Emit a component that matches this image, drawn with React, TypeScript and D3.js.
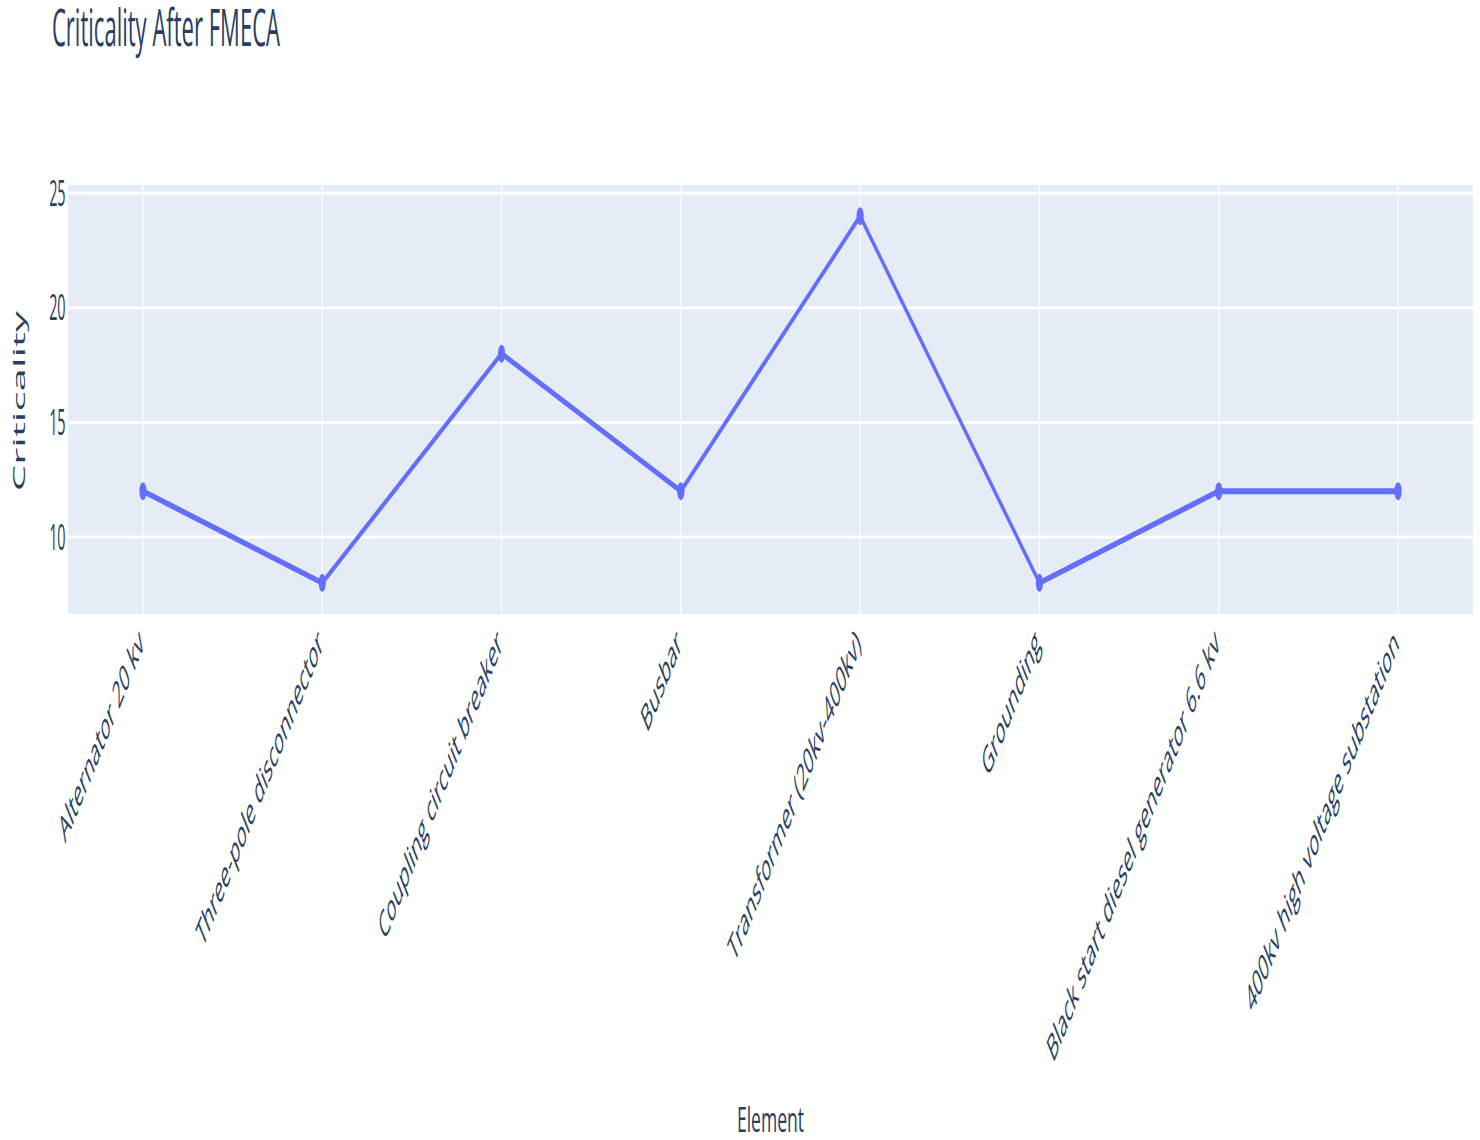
import React from "react";
import * as d3 from "d3";

// Criticality After FMECA
const elements = [
  "Alternator 20 kv",
  "Three-pole disconnector",
  "Coupling circuit breaker",
  "Busbar",
  "Transformer (20kv-400kv)",
  "Grounding",
  "Black start diesel generator 6.6 kv",
  "400kv high voltage substation",
];
const criticality = [12, 8, 18, 12, 24, 8, 12, 12];
const yTicks = [10, 15, 20, 25];
const yDomain = [6.64, 25.36];

// the reference is a stretched screenshot, so draw in "natural" units and scale
const sx = 1.2;
const sy = 3;
const width = 1480;
const height = 1140;
const W = width / sx;
const H = height / sy;
const margin = { top: 185 / sy, right: (width - 1473) / sx, bottom: (height - 614) / sy, left: 68 / sx };

const textColor = "#2a3f5f";
const font = "'Open Sans', Verdana, sans-serif";

export default function App() {
  const x = d3
    .scalePoint<string>()
    .domain(elements)
    .range([margin.left, W - margin.right])
    .padding(0.418);
  const y = d3
    .scaleLinear()
    .domain(yDomain)
    .range([H - margin.bottom, margin.top]);

  const data = elements.map((e, i) => ({ e, v: criticality[i] }));
  const line = d3
    .line<{ e: string; v: number }>()
    .x((d) => x(d.e)!)
    .y((d) => y(d.v));

  const plotTop = margin.top;
  const plotBottom = H - margin.bottom;

  return (
    <svg
      width={width}
      height={height}
      style={{ position: "absolute", left: 0, top: 0, display: "block", background: "#fff" }}
    >
      <g transform={`scale(${sx},${sy})`}>
        <rect
          x={margin.left}
          y={plotTop}
          width={W - margin.left - margin.right}
          height={plotBottom - plotTop}
          fill="#E5ECF6"
        />
        {/* grid */}
        {yTicks.map((t) => (
          <line
            key={"gy" + t}
            x1={margin.left}
            x2={W - margin.right}
            y1={y(t)}
            y2={y(t)}
            stroke="#fff"
            strokeWidth={1}
          />
        ))}
        {elements.map((e) => (
          <line
            key={"gx" + e}
            x1={x(e)}
            x2={x(e)}
            y1={plotTop}
            y2={plotBottom}
            stroke="#fff"
            strokeWidth={1}
          />
        ))}

        {/* series */}
        <path d={line(data)!} fill="none" stroke="#636efa" strokeWidth={2} strokeLinejoin="round" />
        {data.map((d) => (
          <circle key={"m" + d.e} cx={x(d.e)} cy={y(d.v)} r={3} fill="#636efa" />
        ))}

        {/* y ticks */}
        {yTicks.map((t) => (
          <text
            key={"ty" + t}
            x={margin.left - 2}
            y={y(t)}
            dy="0.35em"
            textAnchor="end"
            fontFamily={font}
            fontSize={12}
            fill={textColor}
          >
            {t}
          </text>
        ))}

        {/* x ticks */}
        {elements.map((e) => (
          <text
            key={"tx" + e}
            transform={`translate(${x(e)! + 1.5},${plotBottom + 10.5}) rotate(-45)`}
            textAnchor="end"
            fontFamily={font}
            fontSize={12.6}
            fill={textColor}
          >
            {e}
          </text>
        ))}

        {/* titles */}
        <text
          x={43.3}
          y={15.2}
          fontFamily={font}
          fontSize={17}
          fill={textColor}
          textLength={190}
          lengthAdjust="spacingAndGlyphs"
        >
          Criticality After FMECA
        </text>
        <text
          transform={`translate(${20.8},${133.7}) rotate(-90)`}
          textAnchor="middle"
          fontFamily={font}
          fontSize={14}
          fill={textColor}
        >
          Criticality
        </text>
        <text
          x={(margin.left + W - margin.right) / 2}
          y={377.5}
          textAnchor="middle"
          fontFamily={font}
          fontSize={11.5}
          fill={textColor}
          textLength={56}
          lengthAdjust="spacingAndGlyphs"
        >
          Element
        </text>
      </g>
    </svg>
  );
}
